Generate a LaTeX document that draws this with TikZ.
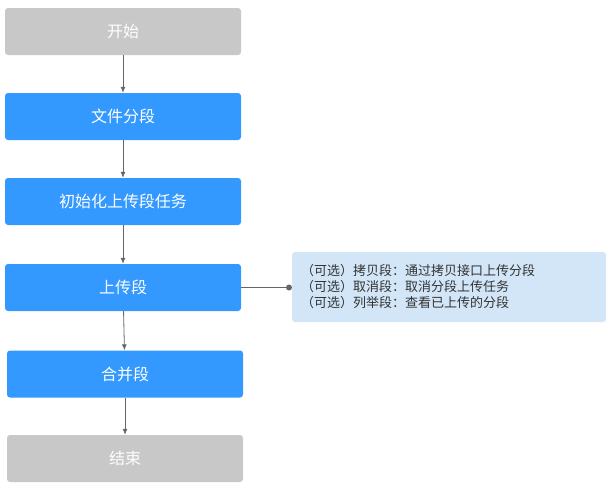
\documentclass[tikz,border=0pt]{standalone}
\usepackage{fontspec}
\newfontfamily\cjk{Noto Sans CJK SC}
\usetikzlibrary{arrows.meta}
\definecolor{stepblue}{HTML}{3399FF}
\definecolor{endgray}{HTML}{C8C8C8}
\definecolor{notebg}{HTML}{D2E6F8}
\tikzset{
  stepbox/.style={rounded corners=3pt,minimum width=236pt,minimum height=47pt,text=white,font=\cjk\fontsize{16}{18}\selectfont},
  flow/.style={draw=gray!80!black,line width=0.8pt,-{Latex[length=6pt,width=5pt]}}
}
\begin{document}
\begin{tikzpicture}[x=1pt,y=-1pt]
        \useasboundingbox (0,0) rectangle (616,485);
        \node[stepbox,fill=endgray] (start) at (123,31.5) {开始};
        \node[stepbox,fill=stepblue] (split) at (123,116.5) {文件分段};
        \node[stepbox,fill=stepblue] (init) at (123,201.5) {初始化上传段任务};
        \node[stepbox,fill=stepblue] (upload) at (123,287.5) {上传段};
        \node[stepbox,fill=stepblue] (merge) at (125,374) {合并段};
        \node[stepbox,fill=endgray] (finish) at (125,458.5) {结束};
        \draw[flow] (start) -- (split);
        \draw[flow] (split) -- (init);
        \draw[flow] (init) -- (upload);
        \draw[flow] (upload) -- (merge);
        \draw[flow] (merge) -- (finish);

        % optional operations
        \node[fill=notebg,rounded corners=3pt,minimum width=314pt,minimum height=70pt,
              align=left,text width=296pt,font=\cjk\fontsize{13}{16}\selectfont,text=black!80] (note) at (449,287)
             {（可选）拷贝段：通过拷贝接口上传分段\\（可选）取消段：取消分段上传任务\\（可选）列举段：查看已上传的分段};
        \coordinate (dot) at (289,287.5);
        \draw[gray!80!black,line width=0.8pt] (upload.east) -- (dot);
        \fill[gray!80!black] (dot) circle (3pt);
\end{tikzpicture}
\end{document}
